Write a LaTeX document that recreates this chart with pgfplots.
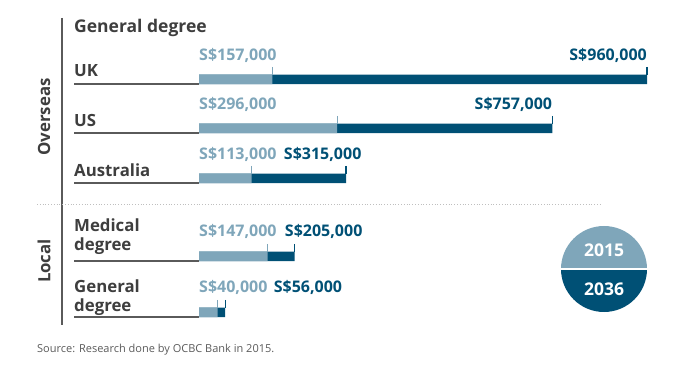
\documentclass[border=0pt]{standalone}
\usepackage{fontspec}
\setmainfont{Open Sans}
\usepackage{pgfplots}
\pgfplotsset{compat=1.18}
\definecolor{lightb}{RGB}{127,166,186}
\definecolor{darkb}{RGB}{0,80,117}
\definecolor{txt}{RGB}{62,62,62}
\definecolor{rulec}{RGB}{90,90,90}
\newcommand\catfont{\fontsize{16.8}{19}\selectfont\bfseries}
\newcommand\valfont{\fontsize{16}{18}\selectfont\bfseries}
\begin{document}
\begin{tikzpicture}[x=1pt,y=1pt]
\path (0,0) rectangle (691,-374);
\begin{axis}[at={(0,0)}, anchor=north west, scale only axis,
  width=691pt, height=374pt,
  xmin=-426.43, xmax=1054.29, ymin=-374, ymax=0,
  hide axis, clip=false, bar width=9.5pt, bar shift=0pt]
% 2036 values
\addplot[xbar, fill=darkb, draw=none] coordinates {(960,-79.5) (757,-128.5) (315,-178.5) (205,-256.5) (56,-312.5)};
% 2015 values
\addplot[xbar, fill=lightb, draw=none] coordinates {(157,-79.5) (296,-128.5) (113,-178.5) (147,-256.5) (40,-312.5)};
% end ticks
\addplot[only marks, darkb, mark=|, mark size=4pt, mark options={draw=darkb, line width=1.1pt, yshift=8.5pt}] coordinates {(960,-79.5) (757,-128.5) (315,-178.5) (205,-256.5) (56,-312.5)};
\addplot[only marks, lightb, mark=|, mark size=4pt, mark options={draw=lightb, line width=1.1pt, yshift=8.5pt}] coordinates {(157,-79.5) (296,-128.5) (113,-178.5) (147,-256.5) (40,-312.5)};
% value labels
\node[anchor=base west, text=lightb, font=\valfont, inner sep=0pt] at (axis cs:0,-61) {S\$157,000};
\node[anchor=base east, text=darkb, font=\valfont, inner sep=0pt] at (axis cs:960,-61) {S\$960,000};
\node[anchor=base west, text=lightb, font=\valfont, inner sep=0pt] at (axis cs:0,-110) {S\$296,000};
\node[anchor=base east, text=darkb, font=\valfont, inner sep=0pt] at (axis cs:757,-110) {S\$757,000};
\node[anchor=base west, text=lightb, font=\valfont, inner sep=0pt] (au) at (axis cs:0,-160) {S\$113,000};
\node[anchor=base west, text=darkb, font=\valfont, inner sep=0pt] at ([xshift=7pt]au.base east) {S\$315,000};
\node[anchor=base west, text=lightb, font=\valfont, inner sep=0pt] (md) at (axis cs:0,-237) {S\$147,000};
\node[anchor=base west, text=darkb, font=\valfont, inner sep=0pt] at ([xshift=8pt]md.base east) {S\$205,000};
\node[anchor=base west, text=lightb, font=\valfont, inner sep=0pt] (gd) at (axis cs:0,-293) {S\$40,000};
\node[anchor=base west, text=darkb, font=\valfont, inner sep=0pt] at ([xshift=6pt]gd.base east) {S\$56,000};
\end{axis}
% frame elements
\draw[rulec, line width=1.2pt] (62,-18) -- (62,-325);
\draw[gray!50, line width=0.8pt, dotted] (37,-204) -- (600,-204);
\foreach \y in {84,133,183,261,317} \draw[rulec, line width=1.1pt] (74,-\y) -- (199,-\y);
% titles
\node[anchor=base west, inner sep=0pt, text=txt, font=\fontsize{17.5}{20}\selectfont\bfseries] at (74,-32.5) {General degree};
\node[anchor=base west, inner sep=0pt, text=txt, font=\catfont] at (74,-77) {UK};
\node[anchor=base west, inner sep=0pt, text=txt, font=\catfont] at (74,-127) {US};
\node[anchor=base west, inner sep=0pt, text=txt, font=\catfont] at (74,-177) {Australia};
\node[anchor=base west, inner sep=0pt, text=txt, font=\catfont] at (74,-232) {Medical};
\node[anchor=base west, inner sep=0pt, text=txt, font=\catfont] at (74,-251) {degree};
\node[anchor=base west, inner sep=0pt, text=txt, font=\catfont] at (74,-293) {General};
\node[anchor=base west, inner sep=0pt, text=txt, font=\catfont] at (74,-312) {degree};
\node[rotate=90, inner sep=0pt, text=txt, font=\catfont] at (44,-117) {Overseas};
\node[rotate=90, inner sep=0pt, text=txt, font=\catfont] at (44,-261) {Local};
% source
\node[anchor=base west, inner sep=0pt, text=rulec, font=\fontsize{11}{13}\selectfont] at (37,-352) {Source: Research done by OCBC Bank in 2015.};
% year badge
\fill[lightb] (561,-269) arc[start angle=180, end angle=0, radius=43] -- cycle;
\fill[darkb] (561,-269) arc[start angle=180, end angle=360, radius=43] -- cycle;
\draw[white, line width=1.6pt] (559,-269) -- (649,-269);
\node[text=white, font=\fontsize{17.5}{20}\selectfont\bfseries] at (604,-250) {2015};
\node[text=white, font=\fontsize{17.5}{20}\selectfont\bfseries] at (604,-289) {2036};
\end{tikzpicture}
\end{document}
